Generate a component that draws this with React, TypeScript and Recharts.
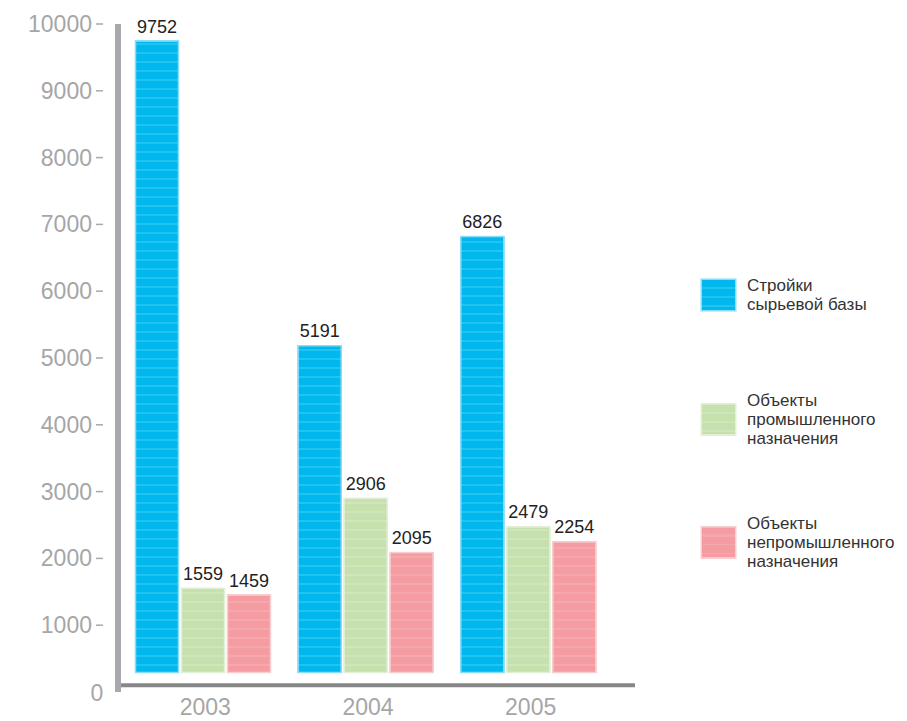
import React from 'react';
import { BarChart, Bar, XAxis, YAxis, LabelList, Legend, ReferenceLine } from 'recharts';

const years = ['2003', '2004', '2005'];
const rawBase = [9752, 5191, 6826];
const industrial = [1559, 2906, 2479];
const nonIndustrial = [1459, 2095, 2254];
const yTicks = [0, 1000, 2000, 3000, 4000, 5000, 6000, 7000, 8000, 9000, 10000];

const seriesNames = {
  raw: 'Стройки\nсырьевой базы',
  ind: 'Объекты\nпромышленного\nназначения',
  non: 'Объекты\nнепромышленного\nназначения',
};

const colors: Record<string, { base: string; stripe: string; edge: string }> = {
  raw: { base: '#00b8ee', stripe: '#22c2f1', edge: '#8adcf7' },
  ind: { base: '#c6e0ae', stripe: '#cfe5bb', edge: '#e2f0d6' },
  non: { base: '#f49ca1', stripe: '#f5a8ac', edge: '#f9cdd0' },
};

const data = years.map((year, i) => ({
  year,
  raw: rawBase[i],
  ind: industrial[i],
  non: nonIndustrial[i],
}));

const FONT = '"Liberation Sans", Arial, Helvetica, sans-serif';
const TICK_GRAY = '#a6a6a6';

const makeShape = (key: string) => (props: any) => {
  const { x, y, width, height } = props;
  const h = Math.max(0, height - 19);
  return (
    <g>
      <rect x={x} y={y} width={width} height={h} fill={`url(#stripe-${key})`} />
      <rect x={x + 0.5} y={y + 0.5} width={width - 1} height={h - 1} fill="none" stroke={colors[key].edge} strokeWidth={1.5} />
    </g>
  );
};

const YTick = (props: any) => {
  const { y, payload } = props;
  if (payload.value === 0) {
    return (
      <text x={97} y={y + 1} textAnchor="middle" dominantBaseline="central" fontSize={23} fill={TICK_GRAY} fontFamily={FONT}>
        0
      </text>
    );
  }
  return (
    <g>
      <text x={92} y={y} textAnchor="end" dominantBaseline="central" fontSize={23} fill={TICK_GRAY} fontFamily={FONT}>
        {payload.value}
      </text>
      <line x1={96} x2={103} y1={y} y2={y} stroke="#a8a8a8" strokeWidth={1.5} />
    </g>
  );
};

const XTick = (props: any) => {
  const { x, payload } = props;
  return (
    <text x={x + 2} y={707} textAnchor="middle" dominantBaseline="central" fontSize={23} fill={TICK_GRAY} fontFamily={FONT}>
      {payload.value}
    </text>
  );
};

const legendCenters: Record<string, number> = { raw: 295, ind: 419, non: 542 };

const LegendContent = () => (
  <div style={{ position: 'relative', width: 0, height: 0, overflow: 'visible', pointerEvents: 'none' }}>
    {(['raw', 'ind', 'non'] as const).map((key) => (
      <div
        key={key}
        style={{
          position: 'absolute',
          left: 702,
          top: legendCenters[key],
          transform: 'translateY(-50%)',
          display: 'flex',
          alignItems: 'center',
        }}
      >
        <div
          style={{
            width: 33,
            height: 30,
            background: `repeating-linear-gradient(180deg, ${colors[key].base} 0px, ${colors[key].base} 7px, ${colors[key].stripe} 7px, ${colors[key].stripe} 9px)`,
            boxShadow: `0 0 0 1.5px ${colors[key].edge}`,
          }}
        />
        <div
          style={{
            marginLeft: 12,
            fontFamily: FONT,
            fontSize: 17,
            lineHeight: '19px',
            color: '#333',
            whiteSpace: 'pre',
          }}
        >
          {seriesNames[key]}
        </div>
      </div>
    ))}
  </div>
);

export default function App() {
  return (
    <div style={{ position: 'absolute', left: 0, top: 0, width: 907, height: 721, background: '#fff' }}>
      <BarChart
        width={907}
        height={721}
        data={data}
        margin={{ top: 24, right: 272, bottom: 0, left: 0 }}
        barSize={44}
        barGap={2}
      >
        <defs>
          {Object.keys(colors).map((key) => (
            <pattern key={key} id={`stripe-${key}`} width={10} height={9} patternUnits="userSpaceOnUse">
              <rect width={10} height={9} fill={colors[key].base} />
              <rect y={7} width={10} height={2} fill={colors[key].stripe} />
            </pattern>
          ))}
        </defs>
        <XAxis
          dataKey="year"
          height={29}
          axisLine={false}
          tickLine={false}
          padding={{ left: 4, right: 25 }}
          tick={<XTick />}
        />
        <YAxis
          width={118}
          domain={[0, 10000]}
          ticks={yTicks}
          interval={0}
          axisLine={{ stroke: '#a9a9ad', strokeWidth: 6 }}
          tickLine={false}
          tick={<YTick />}
        />
        <ReferenceLine y={100} stroke="#878787" strokeWidth={4} />
        <Legend
          content={<LegendContent />}
          wrapperStyle={{ position: 'absolute', left: 0, top: 0, width: 0, height: 0, overflow: 'visible' }}
        />
        {(['raw', 'ind', 'non'] as const).map((key) => (
          <Bar
            key={key}
            dataKey={key}
            name={seriesNames[key]}
            fill={colors[key].base}
            shape={makeShape(key)}
            isAnimationActive={false}
          >
            <LabelList dataKey={key} position="top" offset={8} fontSize={18} fill="#222" fontFamily={FONT} />
          </Bar>
        ))}
      </BarChart>
    </div>
  );
}
